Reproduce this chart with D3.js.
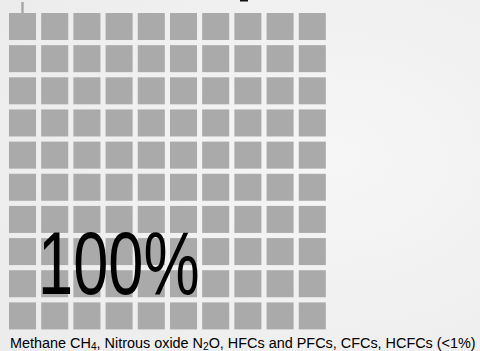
<!DOCTYPE html>
<html>
<head>
    <meta charset="UTF-8">
    <title>Waffle</title>
    <script src="https://d3js.org/d3.v7.min.js"></script>
    <style>
        body { margin: 0; }
    </style>
</head>
<body>
    <div id="chart"></div>
    <script type="text/javascript">
        const width = 480;
        const height = 351;

        // data
        const categories = ["Methane CH4, Nitrous oxide N2O, HFCs and PFCs, CFCs, HCFCs (<1%)"];
        const shares = [100];
        const gridSize = 10;

        const svg = d3.select("#chart")
            .append("svg")
            .attr("width", width)
            .attr("height", height);

        const defs = svg.append("defs");
        const grad = defs.append("radialGradient")
            .attr("id", "bg")
            .attr("cx", "70%").attr("cy", "45%").attr("r", "80%");
        grad.append("stop").attr("offset", "0%").attr("stop-color", "#f6f6f6");
        grad.append("stop").attr("offset", "100%").attr("stop-color", "#ececec");

        svg.append("rect")
            .attr("width", width)
            .attr("height", height)
            .attr("fill", "url(#bg)");

        // clipped title remnant at top
        svg.append("rect")
            .attr("x", 240).attr("y", 0)
            .attr("width", 8).attr("height", 1.5)
            .attr("fill", "#111");

        const x = d3.scaleBand()
            .domain(d3.range(gridSize))
            .range([9, 325.8])
            .paddingInner(0.16)
            .paddingOuter(0);
        const y = d3.scaleBand()
            .domain(d3.range(gridSize))
            .range([13, 329.4])
            .paddingInner(0.16)
            .paddingOuter(0);

        // small tick above the first cell
        svg.append("line")
            .attr("x1", 22.5).attr("x2", 22.5)
            .attr("y1", 2).attr("y2", y(0))
            .attr("stroke", "#aaaaaa")
            .attr("stroke-width", 2.5);

        const filled = Math.round(shares[0] * gridSize * gridSize / 100);
        const cells = d3.range(gridSize * gridSize).map(function (i) {
            return { col: i % gridSize, row: Math.floor(i / gridSize), on: i < filled };
        });

        svg.selectAll("rect.cell")
            .data(cells)
            .enter()
            .append("rect")
            .attr("class", "cell")
            .attr("x", function (d) { return x(d.col); })
            .attr("y", function (d) { return y(d.row); })
            .attr("width", x.bandwidth())
            .attr("height", y.bandwidth())
            .attr("fill", function (d) { return d.on ? "#aaaaaa" : "#dddddd"; });

        svg.append("text")
            .attr("transform", "translate(38,294) scale(0.71,1)")
            .attr("font-family", "Liberation Sans, Arial, sans-serif")
            .attr("font-size", 89)
            .attr("fill", "#000")
            .text(shares[0] + "%");

        // caption with subscripts, squeezed horizontally to fit
        const cap = svg.append("text")
            .attr("font-family", "Liberation Sans, Arial, sans-serif")
            .attr("font-size", 15)
            .attr("fill", "#000");
        const parts = [
            ["Methane CH", false], ["4", true], [", Nitrous oxide N", false], ["2", true],
            ["O, HFCs and PFCs, CFCs, HCFCs (<1%)", false]
        ];
        parts.forEach(function (p, i) {
            const t = cap.append("tspan").text(p[0]);
            if (p[1]) {
                t.attr("font-size", 10.5).attr("dy", 2.5);
            } else if (i > 0) {
                t.attr("dy", -2.5);
            }
        });
        const capW = cap.node().getComputedTextLength();
        cap.attr("transform", "translate(10,347.5) scale(" + (466 / capW) + ",1)");
    </script>
</body>
</html>
